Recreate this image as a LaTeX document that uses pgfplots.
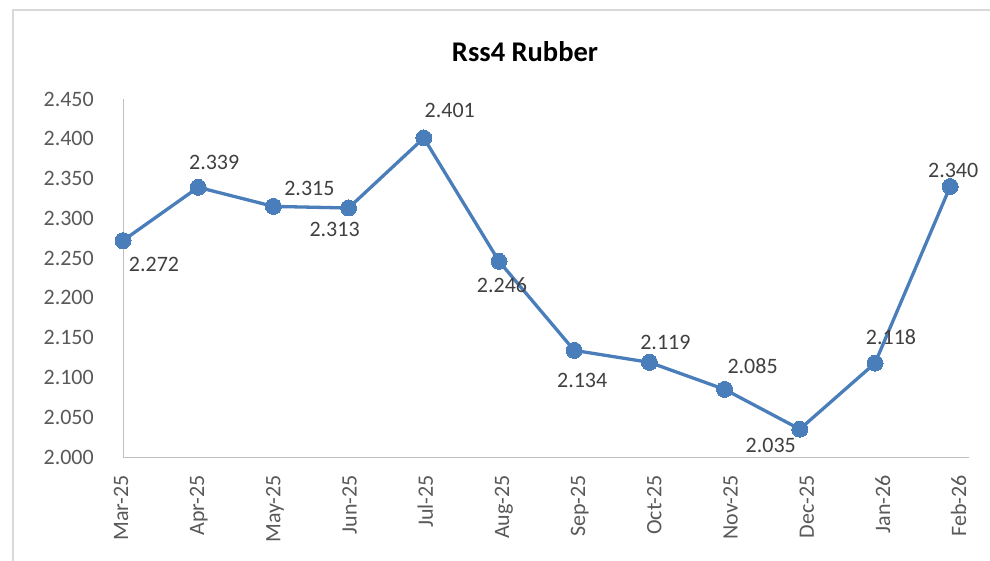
\documentclass[border=0pt]{standalone}
\usepackage{pgfplots}
\usepackage{pgfplotstable}
\pgfplotsset{compat=1.18}
\usepackage{fontspec}
\setmainfont{Carlito}
\definecolor{lineblue}{HTML}{4A7EBB}
\definecolor{ticktxt}{HTML}{595959}
\definecolor{lbltxt}{HTML}{404040}
\definecolor{axisgray}{HTML}{BFBFBF}
\definecolor{bordergray}{HTML}{D9D9D9}
\pgfplotstableread{
x y dx dy
0 2.272 31 -24
1 2.339 16 25
2 2.315 36 18
3 2.313 -14 -21
4 2.401 26 28
5 2.246 3 -24
6 2.134 8 -30
7 2.119 16 20
8 2.085 28 23
9 2.035 -29 -16
10 2.118 16 26
11 2.340 3 16
}\datatable
\begin{document}
\begin{tikzpicture}
\useasboundingbox (0pt,0pt) rectangle (990pt,560pt);
\fill[white] (0pt,0pt) rectangle (990pt,560pt);
\draw[bordergray, line width=1.5pt] (13pt,-20pt) rectangle (1010pt,550pt);
\begin{axis}[
  at={(123pt,103pt)}, anchor=south west,
  scale only axis, width=846pt, height=358pt,
  xmin=0, xmax=11.25, ymin=2.0, ymax=2.45,
  axis lines=left,
  axis line style={-, draw=axisgray, line width=1pt},
  major tick length=0pt,
  ytick={2.0,2.05,...,2.46},
  xtick={0,1.0133,2.0266,3.0399,4.0532,5.0665,6.0798,7.0931,8.1064,9.1197,10.133,11.1463},
  xticklabels={Mar-25,Apr-25,May-25,Jun-25,Jul-25,Aug-25,Sep-25,Oct-25,Nov-25,Dec-25,Jan-26,Feb-26},
  /pgf/number format/.cd, fixed, fixed zerofill, precision=3, assume math mode=true,
  /pgfplots/.cd,
  yticklabel style={font=\fontsize{22}{26}\selectfont, color=ticktxt, inner sep=0pt, anchor=east},
  yticklabel shift=29pt,
  xticklabel style={font=\fontsize{22}{26}\selectfont, color=ticktxt, inner sep=0pt, rotate=90, anchor=east, text height=15pt, text depth=5pt},
  xticklabel shift=18pt,
  clip=false,
]
\addplot[color=lineblue, line width=3.3pt, mark=*, mark size=8pt,
  mark options={fill=lineblue, draw=lineblue, line width=0pt},
  visualization depends on={\thisrow{dx} \as \dx},
  visualization depends on={\thisrow{dy} \as \dy},
  nodes near coords,
  nodes near coords style={anchor=center, xshift=\dx pt, yshift=\dy pt, font=\fontsize{22}{26}\selectfont, color=lbltxt, /pgf/number format/.cd, fixed, fixed zerofill, precision=3, assume math mode=true},
] table[x=x, y=y] {\datatable};
\end{axis}
\node[font=\bfseries\fontsize{28.5}{33}\selectfont, color=black] at (525pt,508pt) {Rss4 Rubber};
\end{tikzpicture}
\end{document}
